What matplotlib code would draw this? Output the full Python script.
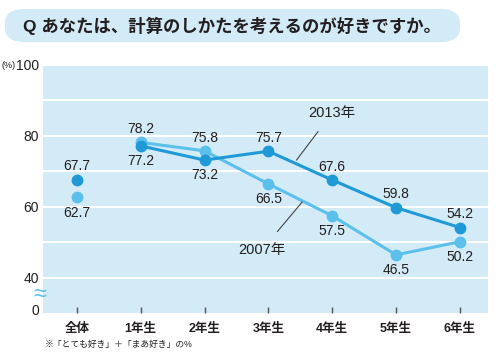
import matplotlib
matplotlib.use("Agg")
import matplotlib.pyplot as plt
from matplotlib.patches import FancyBboxPatch

plt.rcParams['font.family'] = ['Liberation Sans', 'Noto Sans CJK JP', 'DejaVu Sans']

categories = ["全体", "1年生", "2年生", "3年生", "4年生", "5年生", "6年生"]
y2013 = [67.7, 77.2, 73.2, 75.7, 67.6, 59.8, 54.2]
y2007 = [62.7, 78.2, 75.8, 66.5, 57.5, 46.5, 50.2]
pos2013 = ["above", "below", "below", "above", "above", "above", "above"]
pos2007 = ["below", "above", "above", "below", "below", "below", "below"]
yticks = [40, 60, 80, 100]

c2013 = "#1f9ad6"
c2007 = "#5bc0eb"
bg = "#d3eaf7"
txt = "#231f20"

fig = plt.figure(figsize=(5, 3.57), dpi=100)
ax = fig.add_axes([0.086, 0.123, 0.89, 0.695])
ax.set_facecolor(bg)
for s in ax.spines.values():
    s.set_visible(False)

ax.set_xlim(-0.53, 6.44)
ax.set_ylim(30.1, 100)
for g in range(40, 101, 10):
    ax.axhline(g, color="white", lw=1.5, zorder=1)

x = list(range(len(categories)))
# overall (not connected)
ax.plot([0], [y2013[0]], 'o', color=c2013, ms=7.5, zorder=4)
ax.plot([0], [y2007[0]], 'o', color=c2007, ms=7.5, zorder=4)
ax.plot(x[1:], y2007[1:], '-o', color=c2007, lw=2.2, ms=7.5, zorder=3)
ax.plot(x[1:], y2013[1:], '-o', color=c2013, lw=2.2, ms=7.5, zorder=4)

for xs, ys, ps in [(x, y2013, pos2013), (x, y2007, pos2007)]:
    for xi, yi, p in zip(xs, ys, ps):
        off = 9.5 if p == "above" else -11
        ax.annotate(f"{yi:.1f}", (xi, yi), xytext=(0, off), textcoords="offset points",
                    ha="center", va="center", fontsize=10, color=txt, zorder=5)

ax.annotate("2013年", xy=(3.44, 73.2), xytext=(4.0, 86.5), ha="center", va="center",
            fontsize=10.5, color=txt,
            arrowprops=dict(arrowstyle="-", color="#444444", lw=0.8, shrinkA=8, shrinkB=0))
ax.annotate("2007年", xy=(3.53, 61.4), xytext=(2.9, 47.9), ha="center", va="center",
            fontsize=10.5, color=txt,
            arrowprops=dict(arrowstyle="-", color="#444444", lw=0.8, shrinkA=8, shrinkB=0))

ax.set_xticks(x)
ax.set_xticklabels(categories, fontsize=9, fontweight="bold", color=txt)
ax.tick_params(axis="x", direction="in", length=4.5, width=1, color="#555555", pad=7)
ax.set_yticks(yticks + [31])
ax.set_yticklabels([str(v) for v in yticks] + ["0"], fontsize=10, color=txt)
ax.tick_params(axis="y", length=0, pad=3)

fig.text(0.004, 0.817, "(%)", fontsize=6.5, color=txt, va="center")
fig.text(0.08, 0.175, "≈", fontsize=17, color=c2007, va="center", ha="center")
fig.text(0.09, 0.034, "※「とても好き」＋「まあ好き」の%", fontsize=6.3, color=txt, va="center")

box = FancyBboxPatch((0.01, 0.882), 0.91, 0.093, boxstyle="round,pad=0,rounding_size=0.04",
                     transform=fig.transFigure, facecolor=bg, edgecolor="none")
fig.patches.append(box)
fig.text(0.046, 0.927, "Q あなたは、計算のしかたを考えるのが好きですか。", fontsize=12.5,
         fontweight="bold", color=txt, va="center")

fig.savefig("out.png", dpi=100)
